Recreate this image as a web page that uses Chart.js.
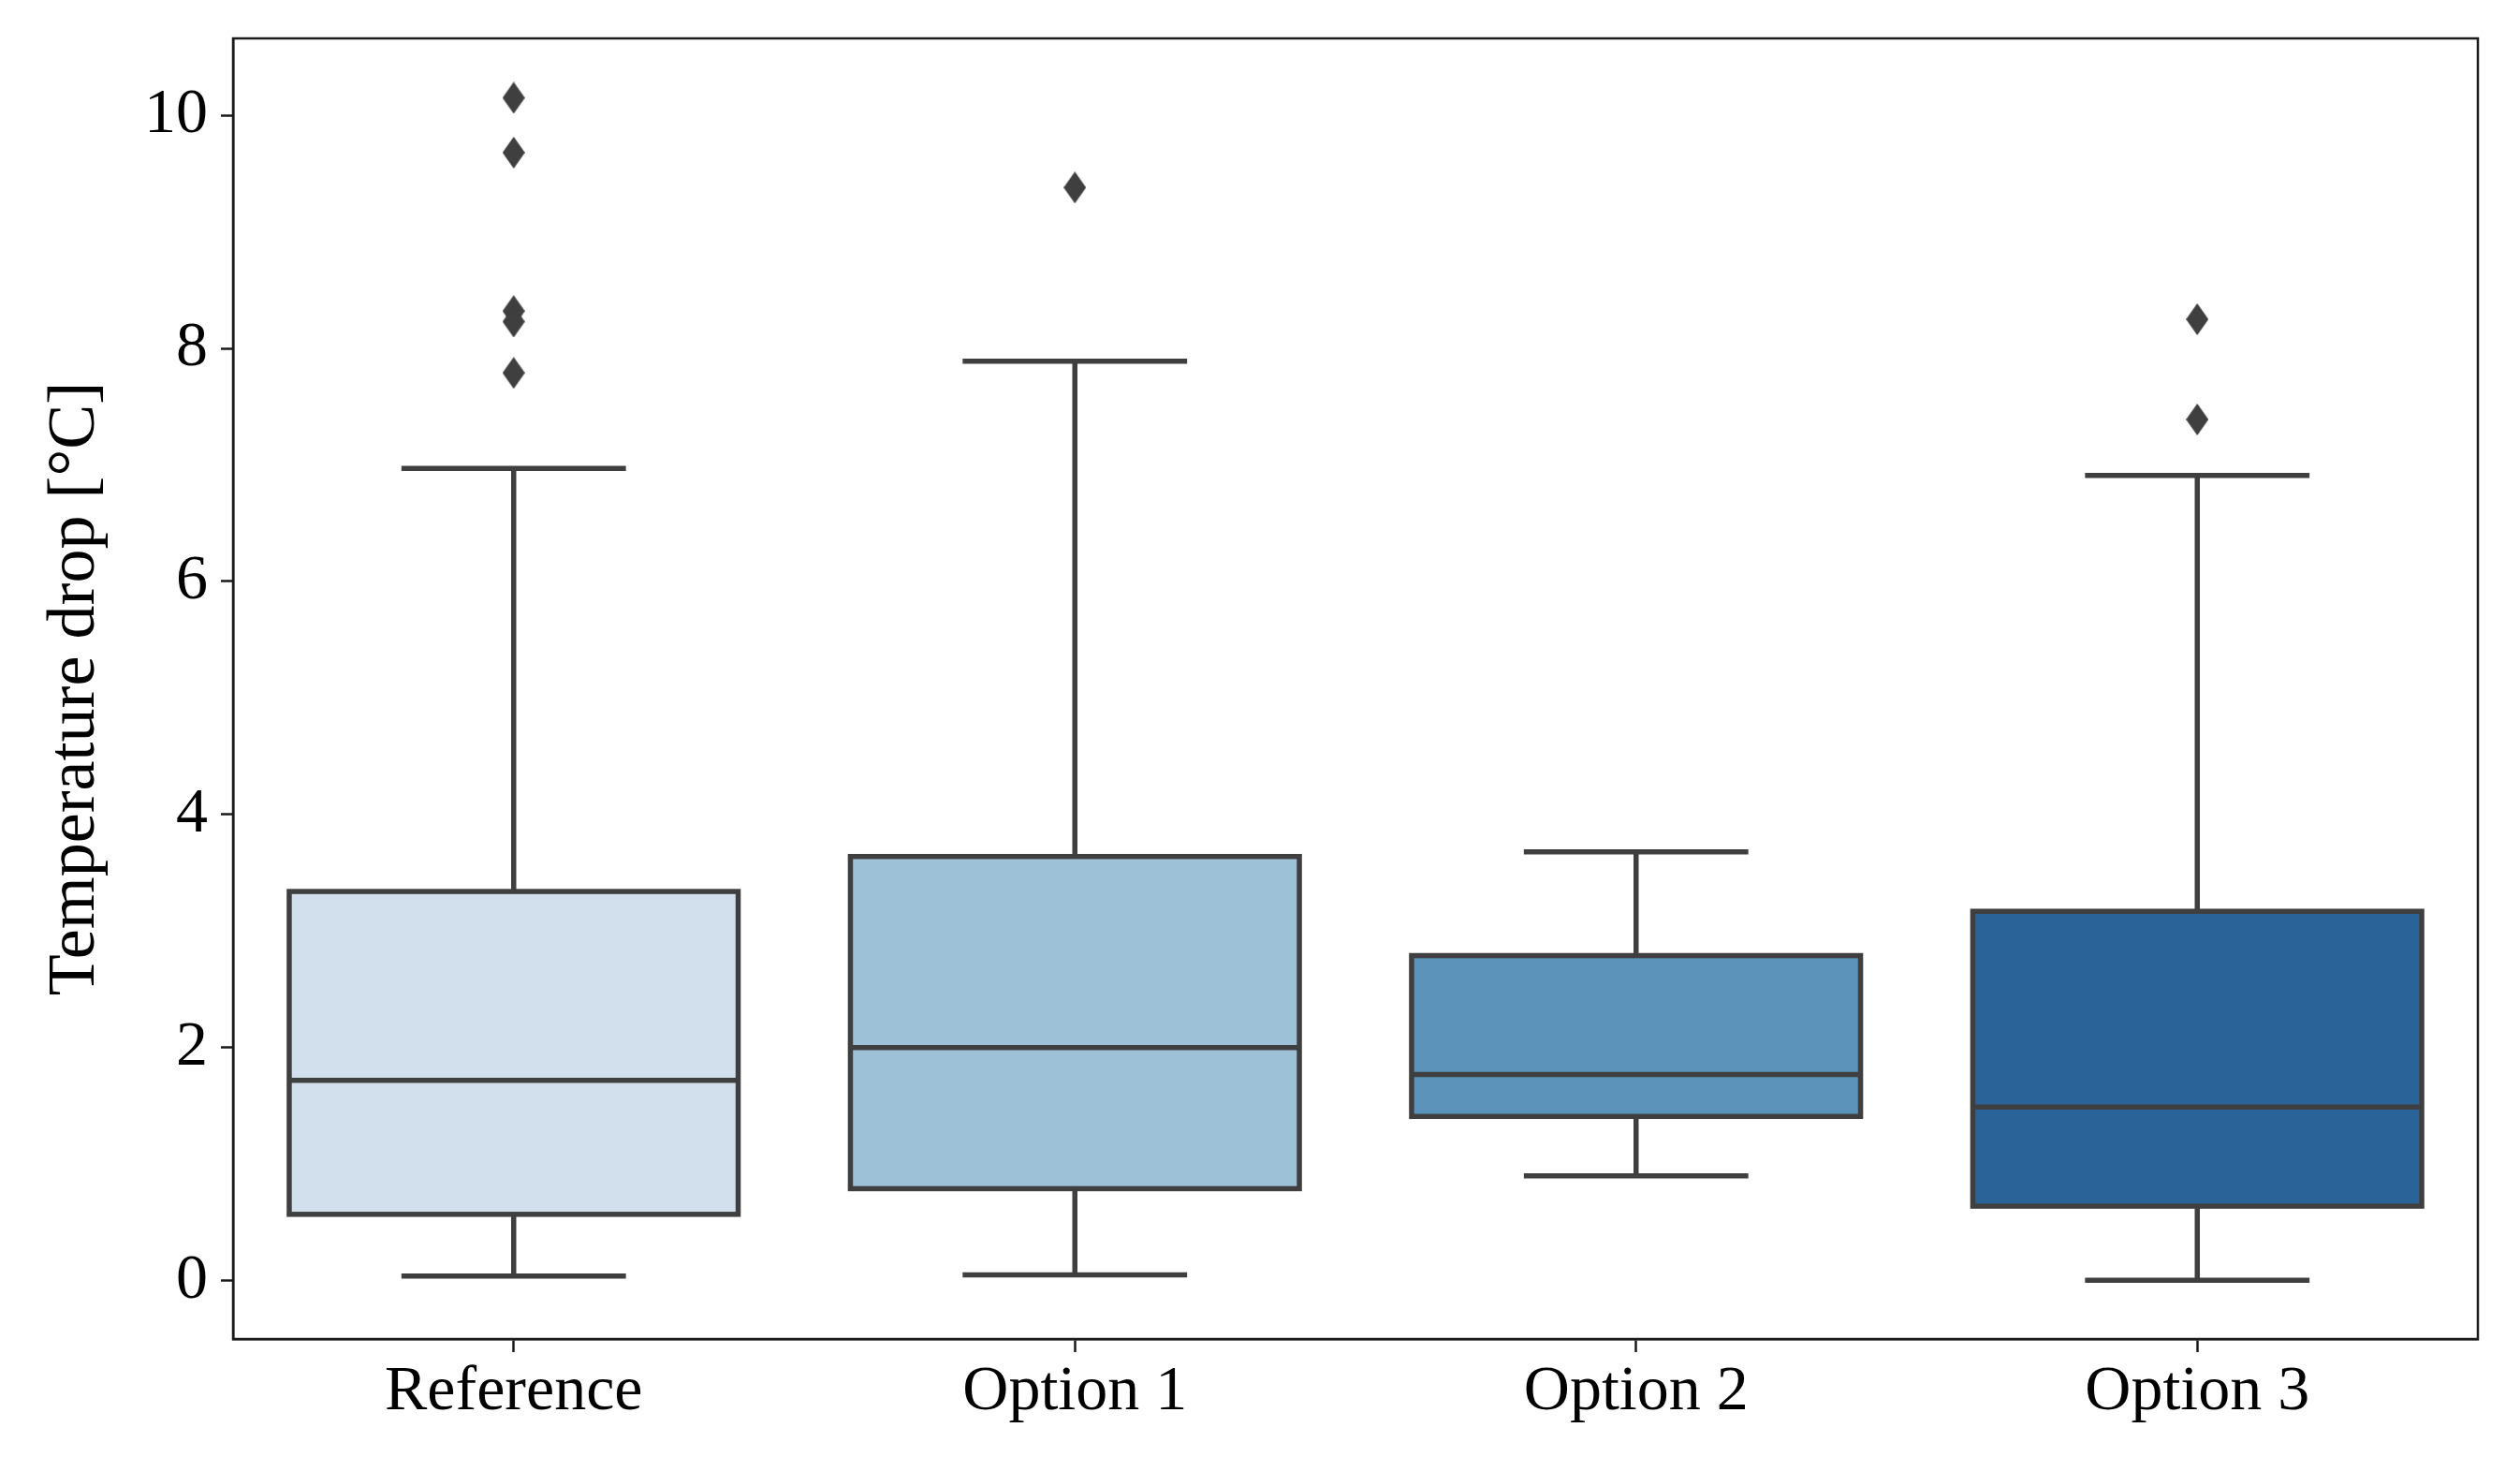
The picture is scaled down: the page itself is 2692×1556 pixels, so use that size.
<!DOCTYPE html>
<html>
<head>
<meta charset="utf-8">
<title>Temperature drop</title>
<script src="https://cdn.jsdelivr.net/npm/chart.js@4.4.1/dist/chart.umd.min.js"></script>
<style>
    html, body { margin: 0; padding: 0; background: #fff; }
    #wrap { width: 2692px; height: 1556px; }
</style>
</head>
<body>
<div id="wrap"><canvas id="chart"></canvas></div>
<script>
// Box plot statistics (°C)
const categories = ['Reference', 'Option 1', 'Option 2', 'Option 3'];
const whiskerLow = [0.04, 0.05, 0.90, 0.005];
const q1 = [0.57, 0.79, 1.41, 0.64];
const median = [1.72, 2.00, 1.77, 1.49];
const q3 = [3.34, 3.64, 2.79, 3.17];
const whiskerHigh = [6.97, 7.89, 3.68, 6.91];
const outliers = [
    [10.15, 9.68, 8.32, 8.23, 7.79],
    [9.38],
    [],
    [8.25, 7.39]
];
const yTicks = [0, 2, 4, 6, 8, 10];

const Y_MIN = -0.5;
const Y_MAX = 10.66;
const boxColors = ['#d2e0ed', '#9dc2d7', '#5b93ba', '#2a6398'];
const LINE_COLOR = '#3f3f3f';
const LINE_WIDTH = 5.5;
const FONT = "'Liberation Serif', 'DejaVu Serif', serif";

// thin diamond marker like matplotlib's 'd'
function makeDiamond(w, h, color) {
    const c = document.createElement('canvas');
    c.width = w; c.height = h;
    const g = c.getContext('2d');
    g.fillStyle = color;
    g.beginPath();
    g.moveTo(w / 2, 0);
    g.lineTo(w, h / 2);
    g.lineTo(w / 2, h);
    g.lineTo(0, h / 2);
    g.closePath();
    g.fill();
    return c;
}

const outlierPoints = categories.flatMap((c, i) => outliers[i].map(v => ({ x: c, y: v })));

// box outlines (centred on the edges like matplotlib), whiskers, caps, medians, frame
const boxPlotLines = {
    id: 'boxPlotLines',
    afterDatasetsDraw(chart) {
        const { ctx, scales: { x, y } } = chart;
        const bars = chart.getDatasetMeta(0).data;
        const seg = (x1, y1, x2, y2) => {
            ctx.beginPath();
            ctx.moveTo(x1, y1);
            ctx.lineTo(x2, y2);
            ctx.stroke();
        };
        ctx.save();
        ctx.strokeStyle = LINE_COLOR;
        ctx.lineWidth = LINE_WIDTH;
        categories.forEach((c, i) => {
            const cx = x.getPixelForValue(i);
            const half = bars[i].width / 2;
            const cap = half / 2;
            const yQ3 = y.getPixelForValue(q3[i]);
            const yQ1 = y.getPixelForValue(q1[i]);
            const yHi = y.getPixelForValue(whiskerHigh[i]);
            const yLo = y.getPixelForValue(whiskerLow[i]);
            ctx.strokeRect(cx - half, yQ3, half * 2, yQ1 - yQ3);
            seg(cx, yQ3, cx, yHi);
            seg(cx - cap, yHi, cx + cap, yHi);
            seg(cx, yQ1, cx, yLo);
            seg(cx - cap, yLo, cx + cap, yLo);
            const yMed = y.getPixelForValue(median[i]);
            seg(cx - half, yMed, cx + half, yMed);
        });
        ctx.restore();
    },
    afterDraw(chart) {
        const { ctx, chartArea: a } = chart;
        ctx.save();
        ctx.strokeStyle = '#1a1a1a';
        ctx.lineWidth = 2.5;
        ctx.strokeRect(a.left, a.top, a.right - a.left, a.bottom - a.top);
        ctx.restore();
    }
};

new Chart(document.getElementById('chart').getContext('2d'), {
    type: 'bar',
    data: {
        labels: categories,
        datasets: [
            {
                type: 'bar',
                data: q1.map((v, i) => [v, q3[i]]),
                backgroundColor: boxColors,
                borderWidth: 0,
                barPercentage: 0.8,
                categoryPercentage: 1,
                order: 2
            },
            {
                type: 'scatter',
                data: outlierPoints,
                pointStyle: makeDiamond(24, 34, LINE_COLOR),
                pointRadius: 12,
                order: 1
            }
        ]
    },
    options: {
        responsive: true,
        maintainAspectRatio: false,
        animation: false,
        layout: { padding: { top: 41, right: 45, bottom: 0, left: 0 } },
        plugins: {
            legend: { display: false },
            tooltip: { enabled: false }
        },
        scales: {
            x: {
                type: 'category',
                offset: true,
                afterFit: s => { s.height = 126; s.paddingLeft = 0; s.paddingRight = 0; },
                grid: { offset: false, drawOnChartArea: false, drawTicks: true, tickLength: 14, tickWidth: 2.5, tickColor: '#1a1a1a' },
                border: { display: true, color: '#1a1a1a', width: 2.5 },
                ticks: { color: '#000', font: { family: FONT, size: 68 }, padding: 2 }
            },
            y: {
                min: Y_MIN,
                max: Y_MAX,
                afterBuildTicks: s => { s.ticks = yTicks.map(v => ({ value: v })); },
                afterFit: s => { s.width = 249; s.paddingTop = 0; s.paddingBottom = 0; },
                grid: { drawOnChartArea: false, drawTicks: true, tickLength: 13, tickWidth: 2.5, tickColor: '#1a1a1a' },
                border: { display: true, color: '#1a1a1a', width: 2.5 },
                ticks: { color: '#000', font: { family: FONT, size: 68 }, padding: 14 },
                title: {
                    display: true,
                    text: 'Temperature drop [°C]',
                    color: '#000',
                    font: { family: FONT, size: 72 },
                    padding: { top: 38, bottom: 0 }
                }
            }
        }
    },
    plugins: [boxPlotLines]
});
</script>
</body>
</html>
